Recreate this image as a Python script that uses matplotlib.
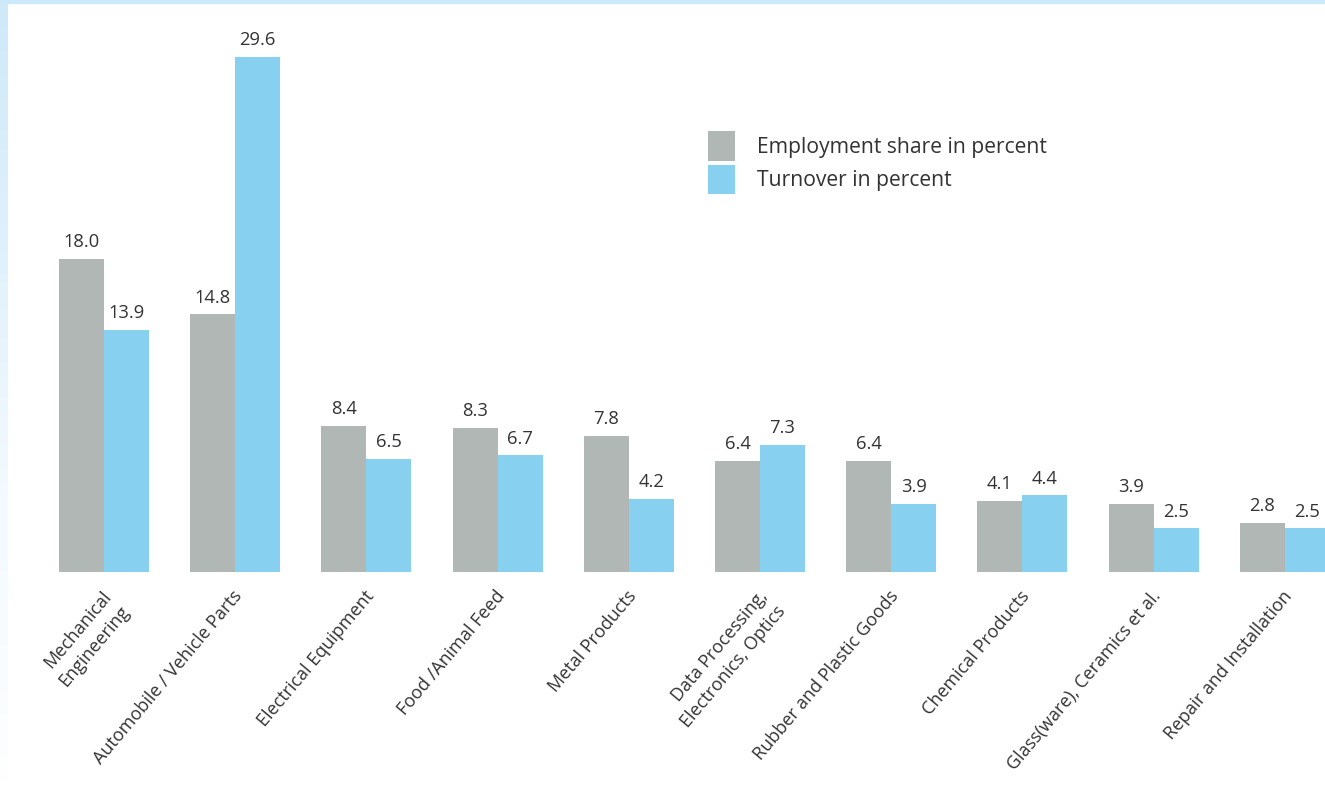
import numpy as np
import matplotlib
matplotlib.use("Agg")
import matplotlib.pyplot as plt
from matplotlib.patches import Rectangle
from matplotlib.colors import LinearSegmentedColormap

categories = ["Mechanical\nEngineering", "Automobile / Vehicle Parts",
              "Electrical Equipment", "Food /Animal Feed", "Metal Products",
              "Data Processing,\nElectronics, Optics", "Rubber and Plastic Goods",
              "Chemical Products", "Glass(ware), Ceramics et al.",
              "Repair and Installation"]
employment = [18.0, 14.8, 8.4, 8.3, 7.8, 6.4, 6.4, 4.1, 3.9, 2.8]
turnover = [13.9, 29.6, 6.5, 6.7, 4.2, 7.3, 3.9, 4.4, 2.5, 2.5]
series_names = ["Employment share in percent", "Turnover in percent"]

GRAY = "#b0b7b4"
BLUE = "#87d0f0"
TEXT = "#333333"
FONT = "Open Sans"

W, H = 1325, 786
fig = plt.figure(figsize=(W / 100, H / 100), dpi=100)

# light blue frame: fading strip on the left, thin strip on top
strip = fig.add_axes([0, 0, 8 / W, 1])
strip.axis("off")
cmap = LinearSegmentedColormap.from_list("fade", ["#ffffff", "#f4fafe", "#cfe9f9"])
strip.imshow(np.linspace(0, 1, 200)[::-1].reshape(-1, 1) ** 0.7, aspect="auto",
             cmap=cmap, extent=[0, 1, 0, 1], origin="upper")
fig.patches.append(Rectangle((0, 1 - 3 / H), 1, 3 / H, transform=fig.transFigure,
                             color="#cce9fa", zorder=5))

ax = fig.add_axes([8 / W, (H - 572) / H, 1 - 8 / W, 569 / H])
x = np.arange(len(categories))
bw = 0.343
ax.bar(x - bw / 2, employment, bw, color=GRAY, label=series_names[0], zorder=2)
ax.bar(x + bw / 2, turnover, bw, color=BLUE, label=series_names[1], zorder=2)

for i in range(len(categories)):
    ax.text(x[i] - bw / 2, employment[i] + 0.45, "%.1f" % employment[i],
            ha="center", va="bottom", fontsize=13.2, color=TEXT, family=FONT)
    ax.text(x[i] + bw / 2, turnover[i] + 0.45, "%.1f" % turnover[i],
            ha="center", va="bottom", fontsize=13.2, color=TEXT, family=FONT)
    # category label, rotated, anchored just below the group centre
    ax.annotate(categories[i], (x[i], 0), xytext=(-2, -11),
                textcoords="offset points", rotation=50, ha="right", va="top",
                rotation_mode="anchor", fontsize=13, color=TEXT, family=FONT,
                linespacing=1.4, annotation_clip=False)

ax.set_xlim(-0.732, 9.306)
ax.set_ylim(0, 32.7)
ax.set_xticks([])
ax.set_yticks([])
for s in ax.spines.values():
    s.set_visible(False)

leg = ax.legend(loc="upper left", bbox_to_anchor=(708 / W, 1 - 131 / H),
                bbox_transform=fig.transFigure, frameon=False,
                prop={"family": FONT, "size": 15.2}, handlelength=1.3,
                handleheight=1.78, handletextpad=1.0, labelspacing=0.2,
                borderpad=0, borderaxespad=0)
for t in leg.get_texts():
    t.set_color(TEXT)

fig.savefig("out.png", dpi=100)
